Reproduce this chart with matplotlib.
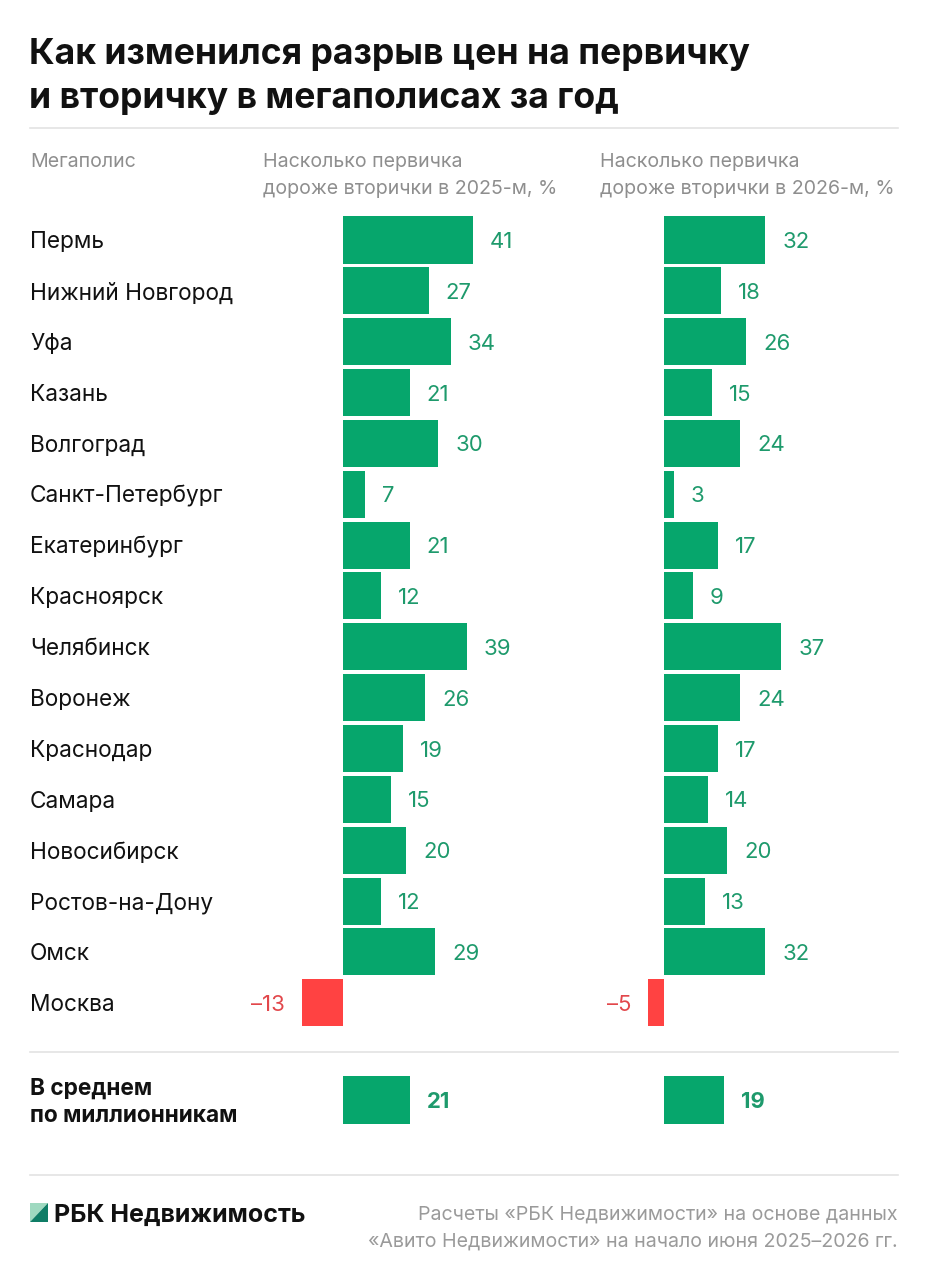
import matplotlib
matplotlib.use("Agg")
import matplotlib.pyplot as plt
from matplotlib.transforms import blended_transform_factory
from matplotlib.patches import Polygon
from matplotlib.lines import Line2D

plt.rcParams['font.family'] = ['Inter', 'DejaVu Sans']

# ---- data ----
cities = ["Пермь", "Нижний Новгород", "Уфа", "Казань", "Волгоград", "Санкт-Петербург",
          "Екатеринбург", "Красноярск", "Челябинск", "Воронеж", "Краснодар", "Самара",
          "Новосибирск", "Ростов-на-Дону", "Омск", "Москва"]
gap_2025 = [41, 27, 34, 21, 30, 7, 21, 12, 39, 26, 19, 15, 20, 12, 29, -13]
gap_2026 = [32, 18, 26, 15, 24, 3, 17, 9, 37, 24, 17, 14, 20, 13, 32, -5]
avg_label = ["В среднем", "по миллионникам"]
avg_2025 = 21
avg_2026 = 19

title = ["Как изменился разрыв цен на первичку", "и вторичку в мегаполисах за год"]
col_head = "Мегаполис"
head_2025 = ["Насколько первичка", "дороже вторички в 2025-м, %"]
head_2026 = ["Насколько первичка", "дороже вторички в 2026-м, %"]
logo_text = "РБК Недвижимость"
source = ["Расчеты «РБК Недвижимости» на основе данных",
          "«Авито Недвижимости» на начало июня 2025–2026 гг."]

GREEN = "#06A66C"
GREEN_TXT = "#1E9A6C"
RED = "#FF4242"
RED_TXT = "#E2474B"
GRAY = "#8E8E8E"
LINE = "#E3E3E3"

W, H = 929, 1280
fig = plt.figure(figsize=(W / 100, H / 100), dpi=100)
fig.patch.set_facecolor("white")

def fx(x):
    return x / W

def fy(y):
    return 1 - y / H

# geometry (pixels)
row0 = 240.0
pitch = 50.85
scale = 3.17  # px per percentage point
top_px, bot_px = 195.0, 1150.0
avg_pos = (1100 - row0) / pitch

def panel(x0, x1, zero_px):
    ax = fig.add_axes([fx(x0), fy(bot_px), (x1 - x0) / W, (bot_px - top_px) / H])
    ax.set_xlim((x0 - zero_px) / scale, (x1 - zero_px) / scale)
    ax.set_ylim((bot_px - row0) / pitch, (top_px - row0) / pitch)
    ax.axis("off")
    return ax

ax1 = panel(240, 600, 343)
ax2 = panel(600, 929, 664)

VAL_FS = 15.9
CITY_FS = 16.3
HEAD_FS = 14.1

def draw(ax, vals, avg):
    pos = list(range(len(vals)))
    colors = [GREEN if v >= 0 else RED for v in vals]
    ax.barh(pos, vals, height=0.925, color=colors, linewidth=0)
    off = 17 / scale
    for p, v in zip(pos, vals):
        if v >= 0:
            ax.text(v + off, p, str(v), ha="left", va="center_baseline", fontsize=VAL_FS, color=GREEN_TXT)
        else:
            ax.text(v - off, p, "–" + str(abs(v)), ha="right", va="center_baseline", fontsize=VAL_FS, color=RED_TXT)
    ax.barh([avg_pos], [avg], height=0.94, color=GREEN, linewidth=0)
    ax.text(avg + off, avg_pos, str(avg), ha="left", va="center_baseline", fontsize=VAL_FS,
            color=GREEN_TXT, fontweight="bold")

draw(ax1, gap_2025, avg_2025)
draw(ax2, gap_2026, avg_2026)

# city names
tr = blended_transform_factory(fig.transFigure, ax1.transData)
for i, c in enumerate(cities):
    ax1.text(fx(30), i, c, transform=tr, ha="left", va="center_baseline", fontsize=CITY_FS, color="#111111")
for k, line in enumerate(avg_label):
    fig.text(fx(30), fy(1086 + 28 * k), line, ha="left", va="center_baseline", fontsize=CITY_FS,
             color="#111111", fontweight="bold")

# title and headers
for k, line in enumerate(title):
    fig.text(fx(29), fy(51 + 44 * k), line, ha="left", va="center_baseline", fontsize=25.6,
             fontweight="bold", color="#111111")
fig.text(fx(30), fy(160), col_head, ha="left", va="center_baseline", fontsize=HEAD_FS, color=GRAY)
for k in range(2):
    fig.text(fx(263), fy(160 + 27 * k), head_2025[k], ha="left", va="center_baseline", fontsize=HEAD_FS, color=GRAY)
    fig.text(fx(600), fy(160 + 27 * k), head_2026[k], ha="left", va="center_baseline", fontsize=HEAD_FS, color=GRAY)

# separators
for y in (128, 1052, 1175):
    fig.add_artist(Line2D([fx(30), fx(898)], [fy(y), fy(y)], color=LINE, linewidth=1.2))

# logo
fig.add_artist(Polygon([[fx(30), fy(1203)], [fx(48), fy(1203)], [fx(30), fy(1222)]],
                       closed=True, facecolor="#9FD9C0", edgecolor="none"))
fig.add_artist(Polygon([[fx(48), fy(1203)], [fx(48), fy(1222)], [fx(30), fy(1222)]],
                       closed=True, facecolor="#0F7D66", edgecolor="none"))
fig.text(fx(54), fy(1213), logo_text, ha="left", va="center_baseline", fontsize=18, fontweight="bold",
         color="#111111")

# source
for k, line in enumerate(source):
    fig.text(fx(898), fy(1213 + 27 * k), line, ha="right", va="center_baseline", fontsize=HEAD_FS,
             color="#9A9A9A")

fig.savefig("out.png", dpi=100, facecolor="white")
